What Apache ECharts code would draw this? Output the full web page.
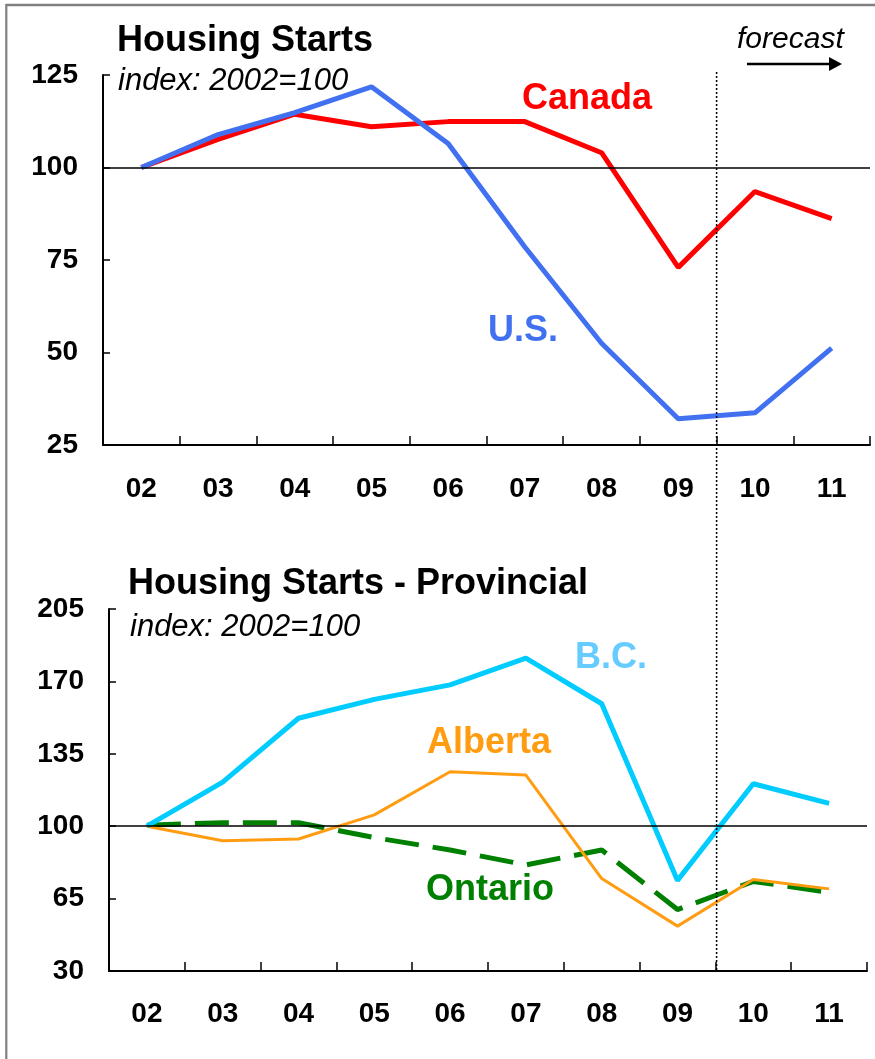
<!DOCTYPE html>
<html><head><meta charset="utf-8">
<script src="https://cdn.jsdelivr.net/npm/echarts@6/dist/echarts.min.js"></script>
<style>html,body{margin:0;padding:0;background:#fff;overflow:hidden}#c{width:875px;height:1059px}</style>
</head><body><div id="c"></div>
<script>
const years = ['02','03','04','05','06','07','08','09','10','11'];
const canada = [100,107.6,114.4,111.0,112.4,112.4,104.0,73.0,93.5,86.2];
const us = [100,108.9,114.8,121.8,106.5,78.5,52.5,32.1,33.7,51.2];
const bc = [100,121.3,152.2,161.3,168.3,181.3,159.2,73.8,120.5,111.0];
const alberta = [100,93.0,93.8,105.5,126.3,124.7,74.7,51.7,74.2,69.7];
const ontario = [100.5,101.7,101.7,94.5,88.5,81.3,88.5,59.7,73.3,68.0];
const topTicks = [25,50,75,100,125];
const bottomTicks = [30,65,100,135,170,205];

const FONT = '"Liberation Sans", Arial, sans-serif';
const chart = echarts.init(document.getElementById('c'), null, {renderer:'canvas'});

function xAx(gi, margin){
  return {type:'category', gridIndex:gi, data:years, boundaryGap:true,
    axisLine:{show:true, lineStyle:{color:'#000', width:2}},
    axisTick:{show:true, inside:true, length:9, alignWithLabel:false, lineStyle:{color:'#000', width:1.5}},
    axisLabel:{margin:margin, color:'#000', fontFamily:FONT, fontWeight:'bold', fontSize:28},
    splitLine:{show:false}};
}
function yAx(gi, ticks){
  return {type:'value', gridIndex:gi, min:ticks[0], max:ticks[ticks.length-1], interval:ticks[1]-ticks[0],
    axisLine:{show:true, lineStyle:{color:'#000', width:2}},
    axisTick:{show:true, inside:true, length:7, lineStyle:{color:'#000', width:1.5}},
    axisLabel:{margin:25, color:'#000', fontFamily:FONT, fontWeight:'bold', fontSize:28},
    splitLine:{show:false}};
}
const refLine = {silent:true, symbol:['none','none'], label:{show:false},
  lineStyle:{color:'#000', width:1.5, type:'solid'}, data:[{yAxis:100}]};

function txt(text, x, y, size, color, style){
  return {type:'text', x:x, y:y, z:100, style:{text:text, fill:color,
    font:(style||'bold')+' '+size+'px '+FONT, verticalAlign:'middle', align:'left'}};
}

chart.setOption({
  animation:false,
  backgroundColor:'#fff',
  grid:[
    {left:103, top:75, width:767, height:370},
    {left:109, top:609, width:758, height:362}
  ],
  xAxis:[xAx(0,30), xAx(1,29)],
  yAxis:[yAx(0,topTicks), yAx(1,bottomTicks)],
  series:[
    {type:'line', name:'Canada', xAxisIndex:0, yAxisIndex:0, data:canada, symbol:'none',
      lineStyle:{color:'#ff0000', width:5}, markLine:refLine},
    {type:'line', name:'U.S.', xAxisIndex:0, yAxisIndex:0, data:us, symbol:'none',
      lineStyle:{color:'#4170f0', width:5}},
    {type:'line', name:'Ontario', xAxisIndex:1, yAxisIndex:1, data:ontario, symbol:'none',
      lineStyle:{color:'#008000', width:5, type:[34,14]}, markLine:refLine},
    {type:'line', name:'Alberta', xAxisIndex:1, yAxisIndex:1, data:alberta, symbol:'none',
      lineStyle:{color:'#ff9c12', width:3}},
    {type:'line', name:'B.C.', xAxisIndex:1, yAxisIndex:1, data:bc, symbol:'none',
      lineStyle:{color:'#00ccff', width:5}}
  ]
});

const xa = chart.convertToPixel({xAxisIndex:0}, '09');
const xb = chart.convertToPixel({xAxisIndex:0}, '10');
const xf = (xa + xb) / 2;
const yBottom = chart.convertToPixel({yAxisIndex:1}, bottomTicks[0]);

chart.setOption({
  graphic:[
    {type:'line', shape:{x1:6, y1:5, x2:875, y2:5}, style:{stroke:'#808080', lineWidth:2.5}},
    {type:'line', shape:{x1:6.3, y1:4, x2:6.3, y2:1059}, style:{stroke:'#808080', lineWidth:2.2}},
    {type:'line', shape:{x1:xf, y1:72, x2:xf, y2:yBottom}, z:50, style:{stroke:'#000', lineWidth:1.5, lineDash:[2,2]}},
    {type:'line', shape:{x1:747, y1:64, x2:830, y2:64}, style:{stroke:'#000', lineWidth:2.5}},
    {type:'polygon', shape:{points:[[829,57],[842,64],[829,71]]}, style:{fill:'#000'}},
    txt('Housing Starts', 117, 41, 36, '#000'),
    txt('index: 2002=100', 118, 81, 31, '#000', 'italic'),
    txt('forecast', 737, 40, 30, '#000', 'italic'),
    txt('Canada', 522, 99, 36, '#ff0000'),
    txt('U.S.', 488, 331, 36, '#4170f0'),
    txt('Housing Starts - Provincial', 128, 584, 36, '#000'),
    txt('index: 2002=100', 130, 627, 31, '#000', 'italic'),
    txt('B.C.', 575, 658, 36, '#66ccff'),
    txt('Alberta', 427, 743, 36, '#ff9c12'),
    txt('Ontario', 426, 890, 36, '#008000')
  ]
});
</script></body></html>
